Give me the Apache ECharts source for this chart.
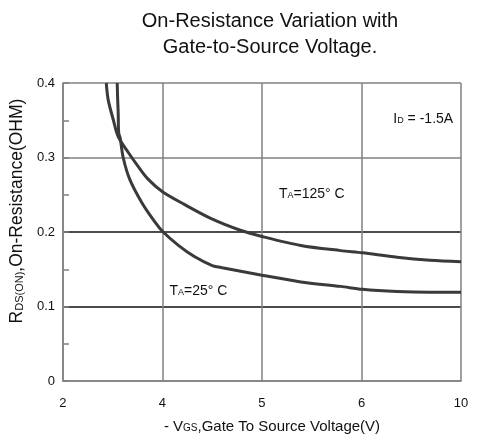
<!DOCTYPE html>
<html>
<head>
<meta charset="utf-8">
<script src="https://cdn.jsdelivr.net/npm/echarts@6/dist/echarts.min.js"></script>
<style>html,body{margin:0;padding:0;background:#fff;}#c{width:478px;height:439px;}</style>
</head>
<body>
<div id="c"></div>
<script>
// Tick labels of the (non-uniform) x axis, equally spaced
var xTicks = [2, 4, 5, 6, 10];
var yTicks = [0, 0.1, 0.2, 0.3, 0.4];

// -VGS (V)
var vgs25  = [3.09, 3.10, 3.11, 3.12, 3.15, 3.21, 3.34, 3.58, 3.81, 4.00, 4.16, 4.32, 4.50, 4.60, 5.00, 5.39, 5.79, 6.03, 7.43, 8.76, 10];
var rds25  = [0.400, 0.377, 0.360, 0.333, 0.326, 0.300, 0.271, 0.240, 0.217, 0.201, 0.182, 0.167, 0.155, 0.152, 0.142, 0.133, 0.127, 0.123, 0.120, 0.119, 0.119];

var vgs125 = [2.87, 2.91, 3.01, 3.11, 3.31, 3.51, 3.71, 4.00, 4.22, 4.49, 4.79, 5.00, 5.39, 5.79, 6.03, 7.43, 8.76, 10];
var rds125 = [0.400, 0.377, 0.351, 0.328, 0.307, 0.288, 0.271, 0.254, 0.237, 0.218, 0.202, 0.194, 0.182, 0.175, 0.172, 0.166, 0.162, 0.160];

function pos(v) {
  for (var i = 0; i < xTicks.length - 1; i++) {
    if (v <= xTicks[i + 1]) return i + (v - xTicks[i]) / (xTicks[i + 1] - xTicks[i]);
  }
  return xTicks.length - 1;
}
function pts(xs, ys) { return xs.map(function (v, i) { return [pos(v), ys[i]]; }); }

var FONT = 'Liberation Sans, Arial, sans-serif';

var chart = echarts.init(document.getElementById('c'));
chart.setOption({
  animation: false,
  backgroundColor: '#fff',
  title: {
    text: 'On-Resistance Variation with\nGate-to-Source Voltage.',
    left: 265, top: 3, textAlign: 'center',
    textStyle: { fontFamily: FONT, fontSize: 20, fontWeight: 'normal', color: '#111', lineHeight: 26 }
  },
  grid: { left: 61, right: 17, top: 83, bottom: 56 },
  xAxis: {
    type: 'value', min: 0, max: xTicks.length - 1, interval: 1,
    axisLine: { lineStyle: { color: '#808080', width: 1.5 } },
    axisTick: { show: false },
    axisLabel: { margin: 16, fontFamily: FONT, fontSize: 13, color: '#111',
      formatter: function (v) { return String(xTicks[Math.round(v)]); } },
    splitLine: { show: true, lineStyle: { color: '#808080', width: 1.5 } },
    name: '{t|- V}{s|GS}{t|,Gate To Source Voltage(V)}',
    nameLocation: 'middle', nameGap: 38,
    nameTextStyle: { padding: [0, 0, 0, 20], rich: { t: { fontFamily: FONT, fontSize: 15, color: '#111' }, s: { fontFamily: FONT, fontSize: 10, color: '#111', padding: [4, 0, 0, 0] } } }
  },
  yAxis: {
    type: 'value', min: 0, max: 0.4, interval: 0.05,
    axisLine: { lineStyle: { color: '#808080', width: 1.5 } },
    axisTick: { show: true, inside: true, length: 6, lineStyle: { color: '#808080', width: 1.5 } },
    axisLabel: { margin: 8, fontFamily: FONT, fontSize: 13, color: '#111',
      formatter: function (v) {
        var k = Math.round(v * 100);
        if (k % 10 !== 0) return '';
        return k === 0 ? '0' : (k / 100).toFixed(1);
      } },
    splitLine: { show: true, lineStyle: { width: 1.5,
      color: ['#808080', 'rgba(0,0,0,0)', '#111', 'rgba(0,0,0,0)', '#111', 'rgba(0,0,0,0)', '#808080', 'rgba(0,0,0,0)', '#808080'] } },
    name: '{t|R}{s|DS(ON)}{t|,On-Resistance(OHM)}',
    nameLocation: 'middle', nameGap: 35, nameRotate: 90,
    nameTextStyle: { padding: [0, 0, 0, 42], rich: { t: { fontFamily: FONT, fontSize: 17.5, color: '#111' }, s: { fontFamily: FONT, fontSize: 11, color: '#111', padding: [5, 0, 0, 0] } } }
  },
  series: [
    { name: 'TA=25°C', type: 'line', data: pts(vgs25, rds25), smooth: 0.3, showSymbol: false,
      lineStyle: { color: '#3a3a3a', width: 3 }, z: 5 },
    { name: 'TA=125°C', type: 'line', data: pts(vgs125, rds125), smooth: 0.3, showSymbol: false,
      lineStyle: { color: '#3a3a3a', width: 3 }, z: 5 }
  ]
});

// Annotations, positioned in data coordinates
var notes = [
  { v: 7.28, r: 0.352, parts: [['t', 'I'], ['s', 'D'], ['t', ' = -1.5A']] },
  { v: 5.17, r: 0.251, parts: [['t', 'T'], ['s', 'A'], ['t', '=125° C']] },
  { v: 4.07, r: 0.121, parts: [['t', 'T'], ['s', 'A'], ['t', '=25° C']] }
];
var gfx = notes.map(function (n) {
  var p = chart.convertToPixel({ gridIndex: 0 }, [pos(n.v), n.r]);
  return {
    type: 'text', x: p[0], y: p[1], z: 10,
    style: {
      text: n.parts.map(function (q) { return '{' + q[0] + '|' + q[1] + '}'; }).join(''),
      verticalAlign: 'middle', align: 'left',
      rich: {
        t: { fontFamily: FONT, fontSize: 14, fill: '#111' },
        s: { fontFamily: FONT, fontSize: 9, fill: '#111', padding: [3, 0, 0, 0] }
      }
    }
  };
});
chart.setOption({ graphic: gfx });
</script>
</body>
</html>
